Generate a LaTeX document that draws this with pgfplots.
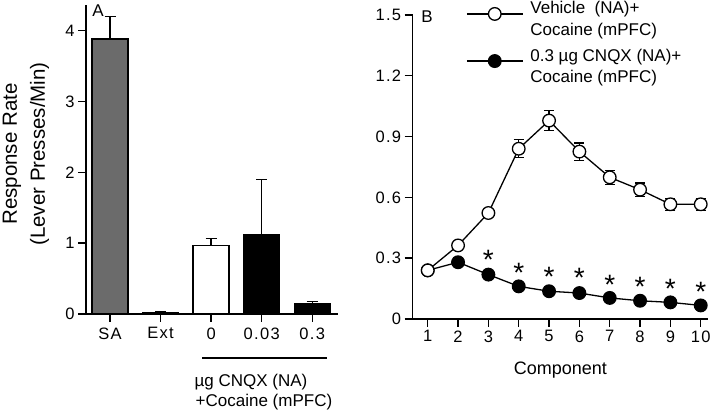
\documentclass[border=0pt]{standalone}
\usepackage{fontspec}
\setmainfont{Liberation Sans}
\newfontfamily\tickfont[LetterSpace=8]{Liberation Sans}
\usepackage{pgfplots}
\pgfplotsset{compat=1.18}
\begin{document}
\begin{tikzpicture}
\useasboundingbox (0pt,0pt) rectangle (720pt,411pt);
\pgfplotsset{
  common/.style={
    scale only axis, anchor=south west,
    axis lines*=left,
    axis line style={line width=1.4pt},
    tick align=outside, major tick length=8pt,
    tick style={line width=1.4pt, black},
    ticklabel style={font=\tickfont\fontsize{16.5}{18}\selectfont},
    /pgf/number format/assume math mode=true,
    label style={font=\fontsize{18}{22}\selectfont},
  }
}
% ---------------- Panel A ----------------
\begin{axis}[common,
  at={(86pt,97pt)}, width=252pt, height=309pt,
  xmin=-0.475, xmax=4.51, ymin=0, ymax=4.36,
  xtick={0,1,2,3,4}, xticklabels={SA,Ext,0,0.03,0.3},
  ytick={0,1,2,3,4},
  xticklabel style={yshift=-2pt},
  ybar, bar width=36pt,
]
\addplot[bar shift=0pt, fill=black!58, draw=black, line width=1.3pt,
  error bars/.cd, y dir=plus, y explicit,
  error bar style={line width=1.3pt},
  error mark options={line width=1.3pt, mark size=5.5pt, rotate=90}]
  coordinates {(0,3.88) +- (0,0.32)};
\addplot[bar shift=0pt, fill=white, draw=black, line width=1.3pt,
  error bars/.cd, y dir=plus, y explicit,
  error bar style={line width=1.3pt},
  error mark options={line width=1.3pt, mark size=5.5pt, rotate=90}]
  coordinates {(2,0.97) +- (0,0.10)};
\addplot[bar shift=0pt, fill=black, draw=black, line width=1.3pt,
  error bars/.cd, y dir=plus, y explicit,
  error bar style={line width=1.3pt},
  error mark options={line width=1.3pt, mark size=5.5pt, rotate=90}]
  coordinates {(1,0.02) +- (0,0.01) (3,1.12) +- (0,0.78) (4,0.14) +- (0,0.04)};
\end{axis}
\node[anchor=base, font=\fontsize{17}{20}\selectfont] at (98pt,394.3pt) {A};
\node[rotate=90, align=center, font=\fontsize{20.5}{28}\selectfont] at (26pt,257pt)
  {Response Rate\\(Lever Presses/Min)};
\draw[line width=1.3pt] (202pt,53pt) -- (327pt,53pt);
\node[anchor=base, font=\fontsize{17}{20}\selectfont] at (251pt,24.3pt) {µg CNQX (NA)};
\node[anchor=base, font=\fontsize{17}{20}\selectfont] at (264pt,4.3pt) {+Cocaine (mPFC)};
% ---------------- Panel B ----------------
\begin{axis}[common,
  at={(412.7pt,92pt)}, width=295.3pt, height=304pt,
  xmin=0.505, xmax=10.24, ymin=0, ymax=1.5,
  xtick={1,2,3,4,5,6,7,8,9,10},
  ytick={0,0.3,0.6,0.9,1.2,1.5}, yticklabels={0,0.3,0.6,0.9,1.2,1.5},
  xlabel={Component},
  xlabel style={yshift=-13pt},
  legend style={at={(axis description cs:0.17,1.06)}, anchor=north west,
    draw=none, fill=none, font=\fontsize{17}{20}\selectfont,
    row sep=0pt, cells={anchor=base west}, nodes={inner sep=0pt},
    column sep=7pt},
  legend image code/.code={\draw[mark repeat=2,mark phase=2,#1]
    plot coordinates {(0pt,0pt) (28pt,0pt) (56pt,0pt)};},
]
\addplot[forget plot, line width=1.3pt, black, mark=*, mark size=6.3pt,
  mark options={fill=black, draw=black}]
  coordinates {(1,0.24) (2,0.28) (3,0.219) (4,0.161) (5,0.137) (6,0.128)
               (7,0.104) (8,0.090) (9,0.082) (10,0.067)};
\addplot[line width=1.3pt, black, mark=*, mark size=6.3pt,
  mark options={fill=white, draw=black},
  error bars/.cd, y dir=both, y explicit,
  error bar style={line width=1.3pt},
  error mark options={line width=1.3pt, mark size=5pt, rotate=90}]
  coordinates {(1,0.24) +- (0,0) (2,0.363) +- (0,0.01) (3,0.523) +- (0,0.01)
               (4,0.84) +- (0,0.044) (5,0.979) +- (0,0.049) (6,0.826) +- (0,0.043)
               (7,0.699) +- (0,0.035) (8,0.638) +- (0,0.033) (9,0.566) +- (0,0.03)
               (10,0.566) +- (0,0.03)};
\addlegendentry{\rule[-5pt]{0pt}{20pt}Vehicle\ \ (NA)+}
\addlegendimage{empty legend}
\addlegendentry{\rule[-5pt]{0pt}{20.3pt}Cocaine (mPFC)}
\addlegendimage{line width=1.3pt, black, mark=*, mark size=6.3pt,
  mark options={fill=black, draw=black}}
\addlegendentry{\rule[-5pt]{0pt}{29pt}0.3 µg CNQX (NA)+}
\addlegendimage{empty legend}
\addlegendentry{\rule[-5pt]{0pt}{20pt}Cocaine (mPFC)}
\addplot[forget plot, draw=none, mark=none,
  nodes near coords={\fontsize{28}{28}\selectfont *},
  nodes near coords align={center}]
  coordinates {(3,0.29) (4,0.228) (5,0.208) (6,0.203) (7,0.17) (8,0.16) (9,0.15) (10,0.135)};
\end{axis}
\node[anchor=base, font=\fontsize{17}{20}\selectfont] at (427pt,388.5pt) {B};
\end{tikzpicture}
\end{document}
